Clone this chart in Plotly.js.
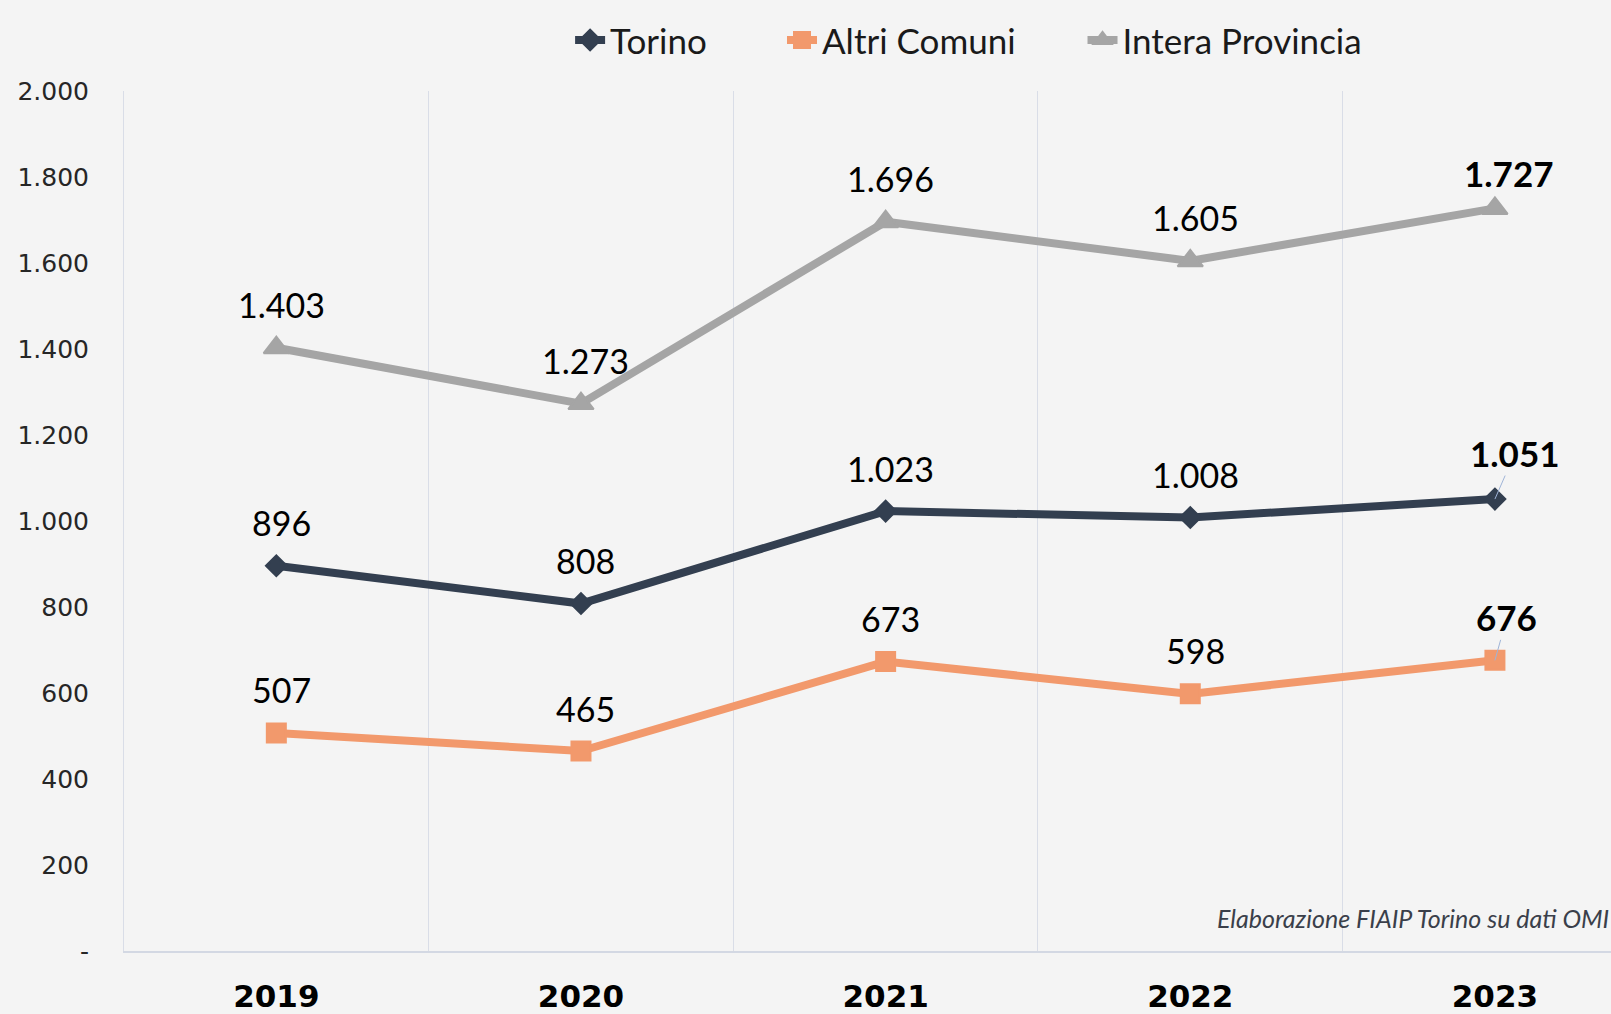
<!DOCTYPE html>
<html>
<head>
<meta charset="utf-8">
<script src="https://cdn.plot.ly/plotly-3.0.1.min.js"></script>
<style>
html, body { margin: 0; padding: 0; background: #f4f4f4; }
#chart { width: 1611px; height: 1014px; }
</style>
</head>
<body>
<div id="chart"></div>
<script>
// ---- data ----
const years = ["2019", "2020", "2021", "2022", "2023"];
const torino = [896, 808, 1023, 1008, 1051];
const altriComuni = [507, 465, 673, 598, 676];
const interaProvincia = [1403, 1273, 1696, 1605, 1727];
const yTickValues = [0, 200, 400, 600, 800, 1000, 1200, 1400, 1600, 1800, 2000];
const yTickLabels = ["-", "200", "400", "600", "800", "1.000", "1.200", "1.400", "1.600", "1.800", "2.000"];
const sourceNote = "Elaborazione FIAIP Torino su dati OMI";

// ---- styling ----
const series = [
  { name: "Torino", values: torino, color: "#333f50", symbol: "diamond", size: 16,
    lastShift: [20, 46], leader: true, legend: "legend", legendX: 0.300 },
  { name: "Altri Comuni", values: altriComuni, color: "#f2996c", symbol: "square", size: 19,
    lastShift: [12, 43], leader: true, legend: "legend2", legendX: 0.4425 },
  { name: "Intera Provincia", values: interaProvincia, color: "#a5a5a5", symbol: "triangle-up", size: 22,
    lastShift: [14, 35], leader: false, legend: "legend3", legendX: 0.6446 }
];

function fmt(n) {
  return String(n).replace(/\B(?=(\d{3})+(?!\d))/g, ".");
}

const traces = series.map(s => ({
  type: "scatter",
  mode: "lines+markers",
  name: s.name,
  legend: s.legend,
  x: years,
  y: s.values,
  line: { color: s.color, width: 8 },
  marker: { color: s.color, symbol: s.symbol, size: s.size, line: { color: s.color, width: 2 } },
  hoverinfo: "skip"
}));

const annotations = [];
series.forEach(s => {
  s.values.forEach((v, i) => {
    const last = i === s.values.length - 1;
    if (!last) {
      annotations.push({
        x: i, y: v, xref: "x", yref: "y",
        text: fmt(v), showarrow: false,
        xshift: 5, yshift: 43, xanchor: "center", yanchor: "middle",
        font: { family: "Lato", size: 34, color: "#000000" }
      });
    } else if (s.leader) {
      annotations.push({
        x: i, y: v, xref: "x", yref: "y",
        text: "<b>" + fmt(v) + "</b>", showarrow: true,
        ax: s.lastShift[0], ay: -s.lastShift[1],
        arrowhead: 0, arrowwidth: 1, arrowcolor: "#9fb4d8", standoff: 0,
        font: { family: "Lato", size: 35, color: "#000000" }
      });
    } else {
      annotations.push({
        x: i, y: v, xref: "x", yref: "y",
        text: "<b>" + fmt(v) + "</b>", showarrow: false,
        xshift: s.lastShift[0], yshift: s.lastShift[1], xanchor: "center", yanchor: "middle",
        font: { family: "Lato", size: 35, color: "#000000" }
      });
    }
  });
});

annotations.push({
  xref: "paper", yref: "paper", x: 1, y: 0.038,
  xanchor: "right", yanchor: "middle",
  text: "<i>" + sourceNote + "</i>", showarrow: false,
  font: { family: "Lato", size: 25, color: "#3a3f4a" }
});

function legendBox(x) {
  return {
    orientation: "h", x: x, xanchor: "left", y: 1.059, yanchor: "middle",
    font: { family: "Lato", size: 35, color: "#1a1a1a" },
    bgcolor: "rgba(0,0,0,0)"
  };
}

const layout = {
  width: 1611, height: 1014,
  paper_bgcolor: "#f4f4f4", plot_bgcolor: "#f4f4f4",
  margin: { l: 124, r: 0, t: 91, b: 63, pad: 0 },
  showlegend: true,
  legend: legendBox(series[0].legendX),
  legend2: legendBox(series[1].legendX),
  legend3: legendBox(series[2].legendX),
  xaxis: {
    type: "category",
    range: [-0.5, 4.381],
    tickson: "boundaries",
    showgrid: true, gridcolor: "#d9dde7", gridwidth: 1,
    showline: true, linecolor: "#d3d8e3", linewidth: 2,
    ticks: "", zeroline: false,
    ticklabelstandoff: 17,
    tickfont: { family: "DejaVu Sans", size: 31, color: "#000000", weight: "bold" },
    fixedrange: true
  },
  yaxis: {
    range: [0, 2000],
    tickmode: "array", tickvals: yTickValues, ticktext: yTickLabels,
    showgrid: false, zeroline: false,
    showline: true, linecolor: "#d9dde7", linewidth: 1,
    ticks: "",
    ticklabelstandoff: 29,
    tickfont: { family: "DejaVu Sans", size: 25, color: "#262626" },
    fixedrange: true
  },
  annotations: annotations,
  hovermode: false
};

Plotly.newPlot("chart", traces, layout, { displayModeBar: false, staticPlot: true });
</script>
</body>
</html>
